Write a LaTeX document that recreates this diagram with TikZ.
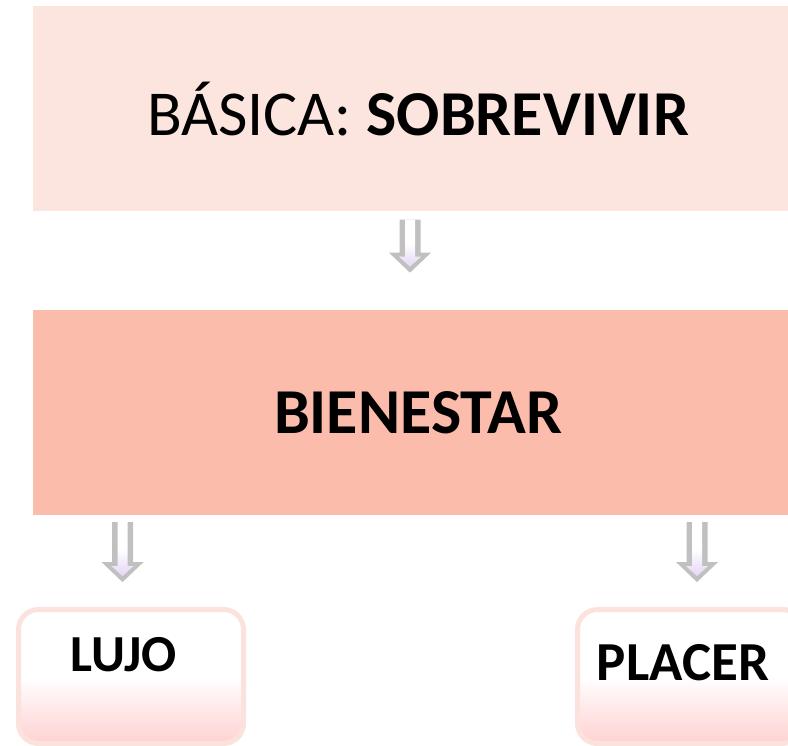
\documentclass[tikz,border=0pt]{standalone}
\usepackage{fontspec}
\setmainfont{Carlito}
\usetikzlibrary{positioning,calc}

\definecolor{toppink}{RGB}{253,229,223}
\definecolor{midpink}{RGB}{252,188,171}
\definecolor{edgepink}{RGB}{252,226,220}
\definecolor{arrowgray}{RGB}{192,192,192}
\definecolor{arrowlav}{RGB}{228,214,245}

\tikzset{
  band/.style={fill=#1, minimum width=770pt, minimum height=205pt, inner sep=0pt},
  roundbox/.style={draw=edgepink, line width=5pt, rounded corners=20pt,
    top color=white, bottom color=red!18, middle color=white,
    minimum width=225pt, minimum height=134pt, inner sep=0pt},
  boxtext/.style={anchor=base, inner sep=0pt, font=\bfseries},
  pics/dblarrow/.style={code={
    \fill[arrowgray] (-10.5,0) -- (-10.5,#1-20) -- (-21,#1-20) -- (0,#1)
      -- (21,#1-20) -- (10.5,#1-20) -- (10.5,0) -- cycle;
    \shade[top color=white, bottom color=arrowlav, middle color=white] (-5,0) -- (-5,#1-16)
      -- (-11,#1-16) -- (0,#1-6) -- (11,#1-16) -- (5,#1-16) -- (5,0) -- cycle;
  }}
}

\begin{document}
\begin{tikzpicture}[x=1pt, y=-1pt]
  \useasboundingbox (0,0) rectangle (788,746);
  \clip (0,0) rectangle (788,746);

  % bands
  \node[band=toppink] (basica) at (418,109)
    {\fontsize{64}{72}\selectfont BÁSICA: \textbf{SOBREVIVIR}};
  \node[band=midpink, below=98pt of basica] (bienestar)
    {\fontsize{64}{72}\selectfont\raisebox{-3pt}{\textbf{BIENESTAR}}};

  % lower boxes
  \node[roundbox] (lujo) at (131,676.5) {};
  \node[roundbox] (placer) at (690,676.5) {};
  \node[boxtext] (lujotxt) at ($(lujo.north)+(-7,64.5)$)
    {\fontsize{52}{60}\selectfont LUJO};
  \node[boxtext] (placertxt) at ($(placer.north)+(-7,73.5)$)
    {\fontsize{55}{64}\selectfont PLACER};

  % arrows
  \pic at ($(basica.south)+(-8,8)$) {dblarrow=53};
  \pic at ($(bienestar.south -| lujo.north)+(-8.5,7)$) {dblarrow=60};
  \pic at ($(bienestar.south -| placer.north)+(7,7)$) {dblarrow=60};
\end{tikzpicture}
\end{document}
